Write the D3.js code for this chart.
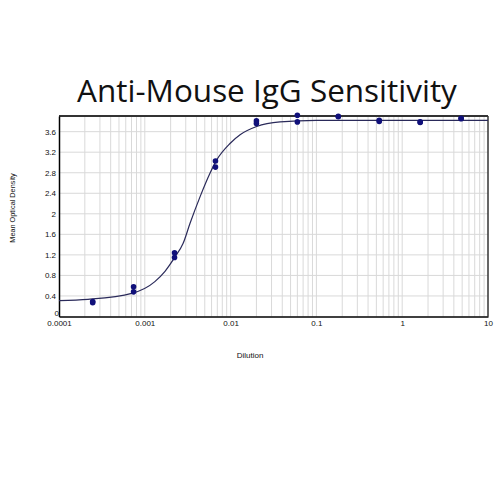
<!DOCTYPE html>
<html><head><meta charset="utf-8">
<script src="https://cdn.jsdelivr.net/npm/d3@7"></script>
<style>body{margin:0;background:#fff}svg{display:block}</style>
</head><body>
<script>
const title = "Anti-Mouse IgG Sensitivity";
const xLabel = "Dilution";
const yLabel = "Mean Optical Density";
const xTickValues = [0.0001, 0.001, 0.01, 0.1, 1, 10];
const xTickLabels = ["0.0001", "0.001", "0.01", "0.1", "1", "10"];
const yTickValues = [0, 0.4, 0.8, 1.2, 1.6, 2, 2.4, 2.8, 3.2, 3.6];
const yTickLabels = ["0", "0.4", "0.8", "1.2", "1.6", "2", "2.4", "2.8", "3.2", "3.6"];
// replicate measurements
const dilutions = [0.000247, 0.00074, 0.00222, 0.00666, 0.02, 0.06, 0.18, 0.54, 1.62, 4.86];
const rep1 = [0.27, 0.58, 1.24, 3.03, 3.81, 3.92, 3.90, 3.82, 3.79, 3.86];
const rep2 = [0.29, 0.48, 1.15, 2.91, 3.76, 3.79, 3.89, 3.80, 3.78, 3.85];
// fitted curve
const curveX = [0.0001, 0.000218, 0.000703, 0.00131, 0.00172, 0.00225, 0.00279, 0.00336, 0.0044, 0.00575, 0.00689, 0.00984, 0.0129, 0.0201, 0.0377, 0.1, 1, 10];
const curveY = [0.31, 0.335, 0.45, 0.68, 0.88, 1.16, 1.42, 1.81, 2.33, 2.79, 3.05, 3.37, 3.54, 3.70, 3.79, 3.82, 3.82, 3.82];

const W = 500, H = 500;
const L = 59, R = 488, T = 116, B = 316.5;
const svg = d3.select("body").append("svg").attr("width", W).attr("height", H);
const x = d3.scaleLog().domain([0.0001, 10]).range([L, R]);
const y = d3.scaleLinear().domain([0, 3.905]).range([B, T]);

// grid
const minor = [];
for (let e = -4; e < 1; e++) for (let m = 1; m <= 9; m++) minor.push(m * Math.pow(10, e));
svg.append("g").selectAll("line").data(minor.filter(v => v > 0.0001)).join("line")
  .attr("x1", d => x(d)).attr("x2", d => x(d)).attr("y1", T).attr("y2", B)
  .attr("stroke", "#d9d9d9").attr("stroke-width", 1);
svg.append("g").selectAll("line").data(yTickValues.filter(v => v > 0)).join("line")
  .attr("x1", L).attr("x2", R).attr("y1", d => y(d)).attr("y2", d => y(d))
  .attr("stroke", "#d9d9d9").attr("stroke-width", 1);

// frame
svg.append("line").attr("x1", L).attr("x2", R).attr("y1", T).attr("y2", T).attr("stroke", "#333").attr("stroke-width", 2);
svg.append("line").attr("x1", R).attr("x2", R).attr("y1", T).attr("y2", B).attr("stroke", "#333").attr("stroke-width", 1.5);

// axes
const xAxis = d3.axisBottom(x).tickValues(xTickValues).tickFormat((d, i) => xTickLabels[i]).tickSize(0).tickPadding(4);
const gx = svg.append("g").attr("transform", `translate(0,${B})`).call(xAxis);
gx.select(".domain").attr("stroke", "#000").attr("stroke-width", 1.5);
gx.selectAll("text").attr("font-family", "Liberation Sans, Arial, sans-serif").attr("font-size", 8).attr("fill", "#111");

const yAxis = d3.axisLeft(y).tickValues(yTickValues).tickFormat((d, i) => yTickLabels[i]).tickSize(0).tickPadding(3);
const gy = svg.append("g").attr("transform", `translate(${L},0)`).call(yAxis);
gy.select(".domain").attr("stroke", "#000").attr("stroke-width", 1.5);
gy.selectAll("text").attr("font-family", "Liberation Sans, Arial, sans-serif").attr("font-size", 8).attr("fill", "#111");
gy.selectAll(".tick").filter(d => d === 0).select("text").attr("x", 0).attr("dy", "-0.1em");

// curve
const pts = curveX.map((v, i) => [v, curveY[i]]);
svg.append("path").datum(pts)
  .attr("d", d3.line().x(d => x(d[0])).y(d => y(d[1])).curve(d3.curveMonotoneX))
  .attr("fill", "none").attr("stroke", "#2a2a5a").attr("stroke-width", 1.2);

// points
const allPts = dilutions.flatMap((d, i) => [[d, rep1[i]], [d, rep2[i]]]);
svg.append("g").selectAll("circle").data(allPts).join("circle")
  .attr("cx", d => x(d[0])).attr("cy", d => y(d[1])).attr("r", 2.8)
  .attr("fill", "#10107a");

// title
const tt = svg.append("text").attr("x", 267).attr("y", 102).attr("text-anchor", "middle")
  .attr("font-family", "Open Sans, Noto Sans, sans-serif").attr("font-size", 32).attr("fill", "#111").text(title);
const wTitle = tt.node().getComputedTextLength();
tt.attr("font-size", 32 * 380 / wTitle);

svg.append("text").attr("x", 250).attr("y", 358).attr("text-anchor", "middle")
  .attr("font-family", "Liberation Sans, Arial, sans-serif").attr("font-size", 8).attr("fill", "#111").text(xLabel);
svg.append("text").attr("transform", "translate(15,208) rotate(-90)").attr("text-anchor", "middle")
  .attr("font-family", "Liberation Sans, Arial, sans-serif").attr("font-size", 7.3).attr("fill", "#111").text(yLabel);
</script>
</body></html>
